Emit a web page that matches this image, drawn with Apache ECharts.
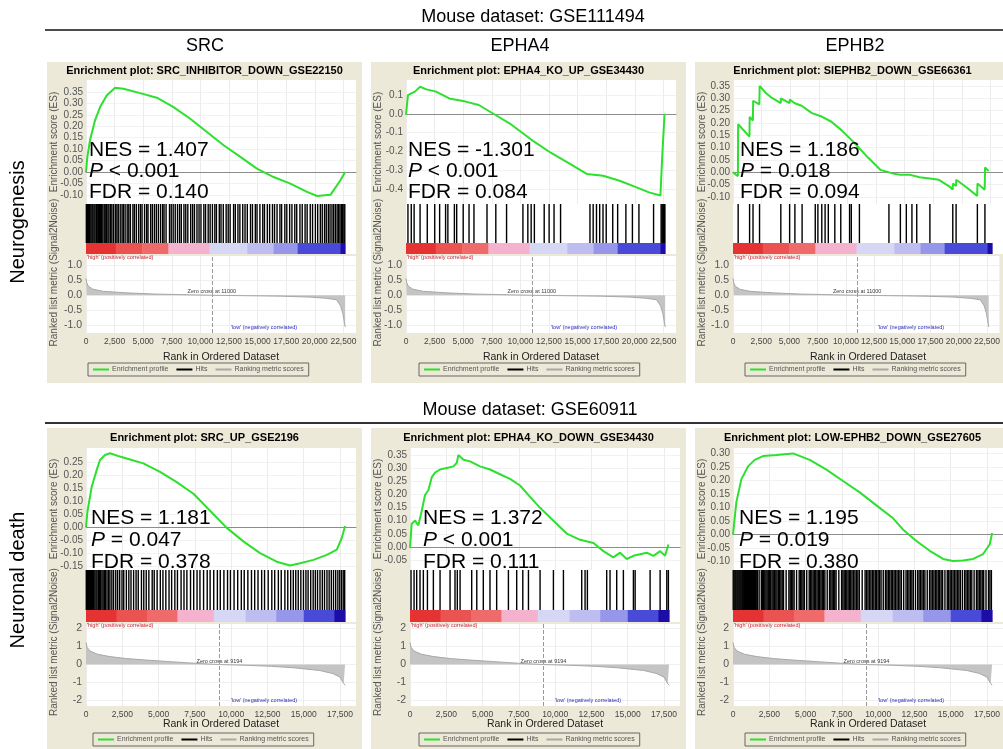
<!DOCTYPE html>
<html>
<head>
    <meta charset="utf-8">
    <title>GSEA enrichment plots</title>
    <script src="https://cdn.jsdelivr.net/npm/echarts@6/dist/echarts.min.js"></script>
    <style>
        html, body { margin: 0; padding: 0; background: #fff; }
        #main { width: 1003px; height: 749px; }
    </style>
</head>
<body>
<div id="main"></div>
<script>
    // ---- shared ranked lists (one per dataset row) ----
    var topRankTicks = [0, 2500, 5000, 7500, 10000, 12500, 15000, 17500, 20000, 22500];
    var bottomRankTicks = [0, 2500, 5000, 7500, 10000, 12500, 15000, 17500];
    var topMetricTicks = [1, 0.5, 0, -0.5, -1];
    var bottomMetricTicks = [2, 1, 0, -1, -2];
    var topZeroCross = 11000;
    var bottomZeroCross = 9194;
    var topMetric = [[0, 0.56], [60, 0.42], [200, 0.3], [600, 0.2], [1500, 0.13], [3500, 0.08], [6000, 0.04],
        [9000, 0.015], [11000, 0], [14000, -0.015], [17000, -0.03], [19500, -0.06], [21000, -0.1],
        [21900, -0.15], [22250, -0.35], [22450, -0.6], [22650, -1.05]];
    var bottomMetric = [[0, 1.22], [80, 0.95], [280, 0.75], [800, 0.57], [1650, 0.44], [2800, 0.33], [3950, 0.26],
        [5800, 0.16], [7500, 0.07], [9194, 0], [11000, -0.04], [12800, -0.1], [14300, -0.18], [16100, -0.33],
        [17000, -0.5], [17500, -0.7], [17750, -1.05], [17850, -1.15]];
    // [start rank, end rank, correlation level]
    var topColorBand = [[0, 2600, 1], [2600, 4900, 0.9], [4900, 7200, 0.78], [7200, 10800, 0.4],
        [10800, 14100, -0.2], [14100, 16400, -0.35], [16400, 18500, -0.55], [18500, 22250, -0.8], [22250, 22650, -1]];
    var bottomColorBand = [[0, 2100, 1], [2100, 4200, 0.9], [4200, 6300, 0.78], [6300, 8800, 0.4],
        [8800, 11000, -0.2], [11000, 13100, -0.35], [13100, 15000, -0.55], [15000, 17100, -0.8], [17100, 17850, -1]];

    // ---- SRC / neurogenesis ----
    var srcNeuroES = [[0, 0], [120, 0.066], [350, 0.139], [790, 0.226], [1230, 0.284], [1810, 0.335], [2540, 0.369],
        [3270, 0.364], [4730, 0.345], [6190, 0.325], [7650, 0.284], [9110, 0.233], [10570, 0.175], [12030, 0.117],
        [13490, 0.066], [14940, 0.015], [16400, -0.022], [17860, -0.051], [19320, -0.087], [20200, -0.105],
        [21370, -0.1], [22240, -0.036], [22650, 0]];
    var srcNeuroHits = [30, 120, 230, 310, 420, 520, 600, 700, 790, 900, 980, 1080, 1170, 1280, 1360, 1470, 1590,
        1680, 1800, 1920, 2010, 2150, 2260, 2400, 2560, 2700, 2820, 2990, 3150, 3270, 3420, 3600, 3740, 3880, 4100,
        4230, 4400, 4600, 4760, 4900, 5120, 5300, 5420, 5650, 5800, 5980, 6150, 6330, 6520, 6700, 6820, 7000, 7300,
        7450, 7620, 7800, 8000, 8180, 8330, 8560, 8720, 8900, 9150, 9320, 9480, 9700, 9880, 10050, 10300, 10450,
        10680, 10850, 11050, 11260, 11400, 11650, 11800, 12000, 12250, 12430, 12600, 12900, 13050, 13280, 13450,
        13700, 13900, 14100, 14380, 14550, 14800, 14950, 15200, 15450, 15600, 15850, 16050, 16300, 16480, 16700,
        16950, 17100, 17380, 17550, 17800, 18000, 18250, 18420, 18700, 18900, 19150, 19330, 19600, 19800, 20050,
        20250, 20480, 20650, 20850, 21000, 21180, 21330, 21500, 21650, 21800, 21950, 22080, 22200, 22320, 22430,
        22540, 22620];
    var srcNeuroTicks = [0.35, 0.3, 0.25, 0.2, 0.15, 0.1, 0.05, 0, -0.05, -0.1];
    var srcNeuroStats = ['NES = 1.407', 'P < 0.001', 'FDR = 0.140'];

    // ---- EPHA4 / neurogenesis ----
    var epha4NeuroES = [[0, -0.005], [170, 0.1], [500, 0.11], [780, 0.118], [1230, 0.144], [1780, 0.13],
        [2630, 0.118], [3780, 0.082], [5210, 0.065], [6360, 0.047], [7790, -0.005], [9220, -0.058],
        [10940, -0.137], [12650, -0.207], [14370, -0.268], [15800, -0.32], [17230, -0.33], [18670, -0.356],
        [20100, -0.39], [21240, -0.418], [22240, -0.435], [22390, -0.233], [22600, 0]];
    var epha4NeuroHits = [170, 460, 710, 1230, 1860, 2510, 2940, 3460, 3660, 4230, 4430, 5000, 5510, 5940, 7080,
        7850, 8790, 10220, 10650, 10940, 11220, 12080, 12510, 12940, 13510, 16080, 16360, 16650, 16930, 17220,
        17500, 18070, 18500, 19220, 19790, 20360, 21640, 22300, 22380, 22450, 22520, 22580, 22630];
    var epha4NeuroTicks = [0.1, 0, -0.1, -0.2, -0.3, -0.4];
    var epha4NeuroStats = ['NES = -1.301', 'P < 0.001', 'FDR = 0.084'];

    // ---- EPHB2 / neurogenesis ----
    var ephb2NeuroES = [[0, 0], [430, -0.015], [450, 0.195], [1440, 0.145], [1460, 0.225], [1740, 0.21],
        [1760, 0.29], [2300, 0.275], [2330, 0.35], [2900, 0.32], [3300, 0.305], [4170, 0.28], [4190, 0.3],
        [4940, 0.28], [4960, 0.295], [5400, 0.28], [6000, 0.27], [6900, 0.24], [7800, 0.225], [8600, 0.205],
        [9500, 0.17], [10600, 0.12], [11800, 0.06], [12900, 0.01], [14000, -0.005], [14600, -0.01], [15500, -0.01],
        [16300, -0.02], [17200, -0.025], [18000, -0.03], [19000, -0.06], [19200, -0.07], [19220, -0.045],
        [19490, -0.055], [19510, -0.03], [20400, -0.06], [21340, -0.095], [21370, -0.045], [22000, -0.07],
        [22030, 0.02], [22350, 0.005]];
    var ephb2NeuroHits = [450, 1450, 1750, 2320, 4180, 4950, 5410, 6040, 7190, 7420, 7760, 8050, 8330, 8900, 9420,
        10190, 10340, 11050, 13630, 14630, 15150, 15640, 16060, 17210, 19210, 19500, 21360, 22020];
    var ephb2NeuroTicks = [0.35, 0.3, 0.25, 0.2, 0.15, 0.1, 0.05, 0, -0.05, -0.1];
    var ephb2NeuroStats = ['NES = 1.186', 'P = 0.018', 'FDR = 0.094'];

    // ---- SRC / neuronal death ----
    var srcDeathES = [[0, 0], [100, 0.06], [390, 0.154], [735, 0.219], [965, 0.258], [1310, 0.277], [1650, 0.284],
        [2340, 0.271], [3030, 0.26], [3950, 0.245], [5100, 0.212], [6250, 0.173], [7400, 0.128], [8550, 0.0625],
        [9700, -0.003], [10840, -0.055], [11990, -0.1], [13140, -0.133], [14060, -0.148], [14750, -0.139],
        [15670, -0.126], [16590, -0.107], [17280, -0.087], [17620, -0.042], [17850, 0.004]];
    var srcDeathHits = [20, 90, 170, 240, 310, 390, 460, 530, 610, 690, 760, 850, 930, 1010, 1100, 1180, 1270,
        1350, 1450, 1560, 1650, 1780, 1900, 2050, 2180, 2320, 2480, 2600, 2780, 2950, 3100, 3280, 3450, 3600, 3820,
        3980, 4150, 4330, 4560, 4700, 4900, 5120, 5300, 5500, 5720, 5900, 6120, 6300, 6550, 6750, 6950, 7200, 7420,
        7650, 7850, 8100, 8350, 8550, 8800, 9050, 9250, 9500, 9750, 9950, 10200, 10450, 10700, 10900, 11150, 11400,
        11620, 11850, 12100, 12300, 12550, 12800, 13000, 13250, 13450, 13700, 13900, 14100, 14280, 14450, 14620,
        14800, 14980, 15150, 15300, 15480, 15650, 15800, 15950, 16120, 16280, 16430, 16600, 16750, 16900, 17050,
        17200, 17350, 17480, 17600, 17720, 17820];
    var srcDeathTicks = [0.25, 0.2, 0.15, 0.1, 0.05, 0, -0.05, -0.1, -0.15];
    var srcDeathStats = ['NES = 1.181', 'P = 0.047', 'FDR = 0.378'];

    // ---- EPHA4 / neuronal death ----
    var epha4DeathES = [[0, -0.004], [115, 0.088], [345, 0.1], [575, 0.082], [805, 0.137], [1035, 0.198],
        [1265, 0.216], [1495, 0.265], [1725, 0.283], [2070, 0.295], [2530, 0.301], [2990, 0.307], [3220, 0.32],
        [3330, 0.35], [3680, 0.332], [4140, 0.326], [4820, 0.307], [5510, 0.295], [6200, 0.277], [6890, 0.259],
        [7580, 0.234], [8270, 0.191], [8960, 0.149], [9880, 0.1], [10800, 0.051], [11720, 0.027], [12640, 0.015],
        [13320, -0.016], [14010, -0.04], [14470, -0.022], [14930, -0.046], [15390, -0.034], [15850, -0.028],
        [16310, -0.022], [16770, -0.034], [17230, -0.016], [17570, -0.034], [17800, 0.009]];
    var epha4DeathHits = [70, 280, 460, 690, 920, 1200, 1610, 2070, 2760, 3100, 3260, 3450, 4250, 4600, 5050, 5510,
        5970, 6780, 7350, 7770, 8160, 8960, 9880, 10570, 11830, 12060, 12220, 13550, 13780, 14240, 14700, 15390,
        15510, 16540, 17230, 17690, 17800];
    var epha4DeathTicks = [0.35, 0.3, 0.25, 0.2, 0.15, 0.1, 0.05, 0, -0.05];
    var epha4DeathStats = ['NES = 1.372', 'P < 0.001', 'FDR = 0.111'];

    // ---- EPHB2 / neuronal death ----
    var ephb2DeathES = [[0, 0], [230, 0.12], [575, 0.204], [1035, 0.252], [1495, 0.276], [2070, 0.29],
        [2990, 0.294], [4135, 0.3], [5285, 0.276], [6435, 0.24], [7580, 0.198], [8730, 0.156], [9880, 0.108],
        [11030, 0.06], [11720, 0.018], [12635, -0.024], [13555, -0.06], [14475, -0.09], [15160, -0.098],
        [15850, -0.096], [16540, -0.09], [17230, -0.072], [17690, -0.036], [17850, 0.006]];
    var ephb2DeathHits = [15, 80, 150, 210, 280, 340, 410, 470, 540, 610, 670, 740, 800, 870, 930, 1000, 1070,
        1130, 1200, 1270, 1340, 1400, 1470, 1540, 1600, 1680, 1800, 1950, 2030, 2110, 2190, 2270, 2350, 2430, 2520,
        2600, 2690, 2770, 2860, 2950, 3030, 3120, 3210, 3300, 3390, 3480, 3660, 3850, 3940, 4030, 4120, 4210, 4380,
        4560, 4650, 4740, 4830, 4920, 5080, 5250, 5340, 5430, 5520, 5610, 5700, 5790, 5880, 5970, 6060, 6150, 6240,
        6330, 6490, 6650, 6740, 6830, 6920, 7010, 7100, 7290, 7480, 7570, 7660, 7750, 7840, 7930, 8020, 8110, 8200,
        8300, 8400, 8500, 8600, 8700, 8900, 9100, 9200, 9300, 9400, 9500, 9600, 9700, 9800, 9900, 10000, 10100,
        10200, 10350, 10500, 10600, 10700, 10800, 10900, 11000, 11100, 11200, 11300, 11400, 11500, 11600, 11760,
        11920, 12020, 12120, 12220, 12320, 12420, 12570, 12720, 12820, 12920, 13020, 13120, 13220, 13380, 13540,
        13640, 13740, 13840, 13940, 14040, 14140, 14240, 14340, 14440, 14600, 14760, 14860, 14960, 15060, 15160,
        15260, 15360, 15460, 15560, 15660, 15800, 15950, 16050, 16150, 16250, 16350, 16450, 16610, 16770, 16870,
        16970, 17070, 17170, 17270, 17430, 17600, 17700, 17800];
    var ephb2DeathTicks = [0.3, 0.25, 0.2, 0.15, 0.1, 0.05, 0, -0.05, -0.1];
    var ephb2DeathStats = ['NES = 1.195', 'P = 0.019', 'FDR = 0.380'];

    // ---- layout ----
    var FONT = '"Liberation Sans", Arial, sans-serif';
    var GREEN = '#2ee02e';
    var BEIGE = '#ECE9D8';
    var PLOT_W = 270;
    var PANEL_W = 315;

    var rows = {
        top: {
            panelTop: 62, panelBottom: 383, titleY: 71, esTop: 80, esBottom: 204, barTop: 243, barBottom: 254,
            rankTop: 256, rankBottom: 333, xNameY: 357, legendTop: 363, statsY: [150, 171, 192], xMax: 23600,
            ticks: topRankTicks, metric: topMetric, band: topColorBand, zero: topZeroCross,
            rankRange: [-1.25, 1.3], rankTicks: topMetricTicks, rankDec: 1
        },
        bottom: {
            panelTop: 428, panelBottom: 752, titleY: 438, esTop: 448, esBottom: 570, barTop: 610, barBottom: 622,
            rankTop: 624, rankBottom: 706, xNameY: 724, legendTop: 733, statsY: [518, 540, 562], xMax: 18600,
            ticks: bottomRankTicks, metric: bottomMetric, band: bottomColorBand, zero: bottomZeroCross,
            rankRange: [-2.3, 2.25], rankTicks: bottomMetricTicks, rankDec: 0
        }
    };

    var panels = [
        { row: 'top', panelLeft: 47, plotLeft: 86, legendLeft: 88, statsDx: 3,
          title: 'Enrichment plot: SRC_INHIBITOR_DOWN_GSE22150', es: srcNeuroES, hits: srcNeuroHits,
          esRange: [-0.14, 0.4025], esTicks: srcNeuroTicks, esDec: 2, stats: srcNeuroStats },
        { row: 'top', panelLeft: 371, plotLeft: 406, legendLeft: 419, statsDx: 2,
          title: 'Enrichment plot: EPHA4_KO_UP_GSE34430', es: epha4NeuroES, hits: epha4NeuroHits,
          esRange: [-0.48, 0.18], esTicks: epha4NeuroTicks, esDec: 1, stats: epha4NeuroStats },
        { row: 'top', panelLeft: 695, plotLeft: 733, legendLeft: 745, statsDx: 7,
          title: 'Enrichment plot: SIEPHB2_DOWN_GSE66361', es: ephb2NeuroES, hits: ephb2NeuroHits,
          esRange: [-0.128, 0.374], esTicks: ephb2NeuroTicks, esDec: 2, stats: ephb2NeuroStats },
        { row: 'bottom', panelLeft: 47, plotLeft: 86, legendLeft: 93, statsDx: 5,
          title: 'Enrichment plot: SRC_UP_GSE2196', es: srcDeathES, hits: srcDeathHits,
          esRange: [-0.165, 0.304], esTicks: srcDeathTicks, esDec: 2, stats: srcDeathStats },
        { row: 'bottom', panelLeft: 371, plotLeft: 410, legendLeft: 419, statsDx: 13,
          title: 'Enrichment plot: EPHA4_KO_DOWN_GSE34430', es: epha4DeathES, hits: epha4DeathHits,
          esRange: [-0.088, 0.377], esTicks: epha4DeathTicks, esDec: 2, stats: epha4DeathStats },
        { row: 'bottom', panelLeft: 695, plotLeft: 733, legendLeft: 745, statsDx: 6,
          title: 'Enrichment plot: LOW-EPHB2_DOWN_GSE27605', es: ephb2DeathES, hits: ephb2DeathHits,
          esRange: [-0.131, 0.32], esTicks: ephb2DeathTicks, esDec: 2, stats: ephb2DeathStats }
    ];

    // colour of the ranked-list colour bar, red (positive) to blue (negative)
    var bandStops = [[-1, [28, 12, 168]], [-0.8, [74, 74, 216]], [-0.55, [150, 150, 234]], [-0.35, [189, 189, 242]],
        [-0.2, [214, 214, 245]], [0, [246, 246, 252]], [0.4, [244, 178, 206]], [0.78, [239, 107, 107]],
        [0.9, [235, 82, 82]], [1, [229, 50, 50]]];
    function bandColor(level) {
        for (var k = 1; k < bandStops.length; k++) {
            if (level <= bandStops[k][0]) {
                var a = bandStops[k - 1], b = bandStops[k];
                var t = (level - a[0]) / (b[0] - a[0]);
                var c = a[1].map(function (v, j) { return Math.round(v + (b[1][j] - v) * t); });
                return 'rgb(' + c.join(',') + ')';
            }
        }
        return 'rgb(229,50,50)';
    }

    function commas(v) {
        return String(v).replace(/\B(?=(\d{3})+(?!\d))/g, ',');
    }

    function txt(x, y, text, size, opts) {
        opts = opts || {};
        return {
            type: 'text', x: x, y: y, rotation: opts.rotation || 0, z: 100, silent: true,
            style: {
                text: text, fill: opts.color || '#000', fontSize: size, fontFamily: FONT,
                fontWeight: opts.weight || 'normal', fontStyle: 'normal',
                align: opts.align || 'center', verticalAlign: 'middle',
                textAlign: opts.align || 'center', textVerticalAlign: 'middle',
                rich: opts.rich
            }
        };
    }

    var grids = [], xAxes = [], yAxes = [], series = [], legends = [], elements = [];

    // page headers
    elements.push(txt(533, 17, 'Mouse dataset: GSE111494', 18));
    elements.push({ type: 'line', z: 100, silent: true, shape: { x1: 45, y1: 30, x2: 1003, y2: 30 }, style: { stroke: '#111', lineWidth: 1.5 } });
    elements.push(txt(205, 46, 'SRC', 18));
    elements.push(txt(520, 46, 'EPHA4', 18));
    elements.push(txt(855, 46, 'EPHB2', 18));
    elements.push(txt(530, 410, 'Mouse dataset: GSE60911', 18));
    elements.push({ type: 'line', z: 100, silent: true, shape: { x1: 45, y1: 423, x2: 1003, y2: 423 }, style: { stroke: '#333', lineWidth: 2 } });
    elements.push(txt(18, 222, 'Neurogenesis', 20, { rotation: Math.PI / 2 }));
    elements.push(txt(18, 580, 'Neuronal death', 20, { rotation: Math.PI / 2 }));

    panels.forEach(function (p, i) {
        var r = rows[p.row];
        var g = i * 3;
        var barFrac = (r.barBottom - r.barTop) / (r.barBottom - r.esBottom);
        var mid = p.panelLeft + PANEL_W / 2;

        // beige panel and its texts
        elements.push({ type: 'rect', z: -10, silent: true,
            shape: { x: p.panelLeft, y: r.panelTop, width: PANEL_W, height: r.panelBottom - r.panelTop },
            style: { fill: BEIGE } });
        elements.push(txt(mid, r.titleY, p.title, 11, { weight: 'bold' }));
        elements.push(txt(p.panelLeft + 7, (r.esTop + r.esBottom) / 2, 'Enrichment score (ES)', 10,
            { rotation: Math.PI / 2, color: '#555' }));
        elements.push(txt(p.panelLeft + 7, (r.esBottom + r.rankBottom) / 2 + 4, 'Ranked list metric (Signal2Noise)', 10,
            { rotation: Math.PI / 2, color: '#555' }));
        elements.push(txt(p.plotLeft + PLOT_W / 2, r.xNameY, 'Rank in Ordered Dataset', 10.5, { color: '#222' }));
        elements.push(txt(p.plotLeft + 1, r.barBottom + 3.5, "'high' (positively correlated)", 5.5,
            { align: 'left', color: '#c0202a' }));
        elements.push(txt(p.plotLeft + 178, r.rankBottom - 6, "'low' (negatively correlated)", 5.5,
            { color: '#2a2ab8' }));
        var rich = { i: { fontStyle: 'italic', fontSize: 21, fontFamily: FONT, fill: '#000' } };
        p.stats.forEach(function (s, k) {
            var t = s.charAt(0) === 'P' ? '{i|P}' + s.slice(1) : s;
            elements.push(txt(p.plotLeft + p.statsDx, r.statsY[k], t, 21, { align: 'left', rich: rich }));
        });

        // three stacked plots: enrichment score, hits + colour bar, ranked list metric
        grids.push({ left: p.plotLeft, top: r.esTop, width: PLOT_W, height: r.esBottom - r.esTop,
            show: true, backgroundColor: '#fff', borderWidth: 0 });
        grids.push({ left: p.plotLeft, top: r.esBottom, width: PLOT_W, height: r.barBottom - r.esBottom,
            show: true, backgroundColor: '#fff', borderWidth: 0 });
        grids.push({ left: p.plotLeft, top: r.rankTop, width: PLOT_W, height: r.rankBottom - r.rankTop,
            show: true, backgroundColor: '#fff', borderWidth: 0 });

        var split = { show: true, lineStyle: { color: '#ececec', width: 1 } };
        xAxes.push({ type: 'value', gridIndex: g, min: 0, max: r.xMax,
            axisLine: { show: true, onZero: true, lineStyle: { color: '#8c8c8c', width: 1 } },
            axisTick: { show: false, customValues: r.ticks }, axisLabel: { show: false }, splitLine: split });
        xAxes.push({ type: 'value', gridIndex: g + 1, min: 0, max: r.xMax, show: false });
        xAxes.push({ type: 'value', gridIndex: g + 2, min: 0, max: r.xMax,
            axisLine: { show: false, onZero: false }, axisTick: { show: false, customValues: r.ticks },
            axisLabel: { customValues: r.ticks, formatter: commas, fontSize: 8.5, color: '#444', margin: 4, fontFamily: FONT },
            splitLine: split });

        yAxes.push({ type: 'value', gridIndex: g, min: p.esRange[0], max: p.esRange[1],
            axisLine: { show: false }, axisTick: { show: false, customValues: p.esTicks },
            axisLabel: { customValues: p.esTicks, fontSize: 10, color: '#555', margin: 3, fontFamily: FONT,
                formatter: (function (d) { return function (v) { return v.toFixed(d); }; })(p.esDec) },
            splitLine: { show: true, lineStyle: { color: '#f2f2f2' } } });
        yAxes.push({ type: 'value', gridIndex: g + 1, min: 0, max: 1, show: false });
        yAxes.push({ type: 'value', gridIndex: g + 2, min: r.rankRange[0], max: r.rankRange[1],
            axisLine: { show: false }, axisTick: { show: false, customValues: r.rankTicks },
            axisLabel: { customValues: r.rankTicks, fontSize: 10.5, color: '#555', margin: 4, fontFamily: FONT,
                formatter: (function (d) { return function (v) { return v.toFixed(d); }; })(r.rankDec) },
            splitLine: { show: true, lineStyle: { color: '#f0f0f0' } } });

        series.push({ type: 'line', name: 'Enrichment profile', xAxisIndex: g, yAxisIndex: g, data: p.es,
            symbol: 'none', lineStyle: { color: GREEN, width: 2 }, itemStyle: { color: GREEN }, z: 5, silent: true });

        series.push({ type: 'custom', name: 'Hits', xAxisIndex: g + 1, yAxisIndex: g + 1,
            data: p.hits.map(function (h) { return [h, 1]; }), itemStyle: { color: '#000' }, silent: true,
            renderItem: function (params, api) {
                var x = api.coord([api.value(0), 1])[0];
                var y0 = api.coord([0, 1])[1];
                var y1 = api.coord([0, barFrac])[1];
                return { type: 'line', shape: { x1: x, y1: y0, x2: x, y2: y1 },
                    style: { stroke: '#000', lineWidth: 1.4 } };
            } });

        series.push({ type: 'custom', name: 'colour bar', xAxisIndex: g + 1, yAxisIndex: g + 1,
            data: r.band, silent: true,
            renderItem: function (params, api) {
                var a = api.coord([api.value(0), barFrac]);
                var b = api.coord([api.value(1), 0]);
                return { type: 'rect', shape: { x: a[0], y: a[1], width: b[0] - a[0] + 0.5, height: b[1] - a[1] },
                    style: { fill: bandColor(api.value(2)) } };
            } });

        series.push({ type: 'line', name: 'Ranking metric scores', xAxisIndex: g + 2, yAxisIndex: g + 2,
            data: r.metric, symbol: 'none', lineStyle: { color: '#a8a8a8', width: 1 }, itemStyle: { color: '#a8a8a8' },
            areaStyle: { color: '#c4c4c4', opacity: 1 }, silent: true,
            markLine: { silent: true, symbol: 'none', label: { show: false },
                lineStyle: { color: '#999', type: 'dashed', width: 1 }, data: [{ xAxis: r.zero }] } });

        series.push({ type: 'scatter', name: 'zero cross', xAxisIndex: g + 2, yAxisIndex: g + 2,
            data: [[r.zero, 0]], symbolSize: 1, itemStyle: { color: 'rgba(0,0,0,0)' }, silent: true,
            label: { show: true, position: 'top', distance: 0, formatter: 'Zero cross at ' + r.zero,
                fontSize: 5.5, color: '#000', fontFamily: FONT } });

        legends.push({ left: p.legendLeft, top: r.legendTop, orient: 'horizontal', selectedMode: false,
            data: ['Enrichment profile', 'Hits', 'Ranking metric scores'], icon: 'rect',
            itemWidth: 16, itemHeight: 2, itemGap: 8, padding: [3, 5],
            borderColor: '#666', borderWidth: 1,
            textStyle: { fontSize: 7, color: '#555', fontFamily: FONT, padding: [0, 0, 0, -2] } });
    });

    var chart = echarts.init(document.getElementById('main'));
    chart.setOption({
        backgroundColor: '#fff',
        animation: false,
        textStyle: { fontFamily: FONT },
        grid: grids,
        xAxis: xAxes,
        yAxis: yAxes,
        legend: legends,
        series: series,
        graphic: { elements: elements }
    });
</script>
</body>
</html>
